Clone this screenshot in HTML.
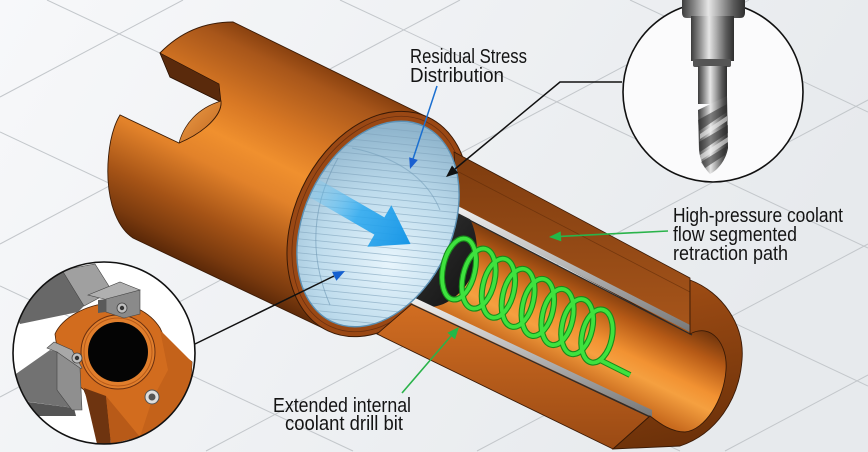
<!DOCTYPE html>
<html><head><meta charset="utf-8"><style>
html,body{margin:0;padding:0;background:#f2f4f6;width:868px;height:452px;overflow:hidden;}
svg{display:block;}
text{font-family:"Liberation Sans",sans-serif;font-size:20px;fill:#141414;}
</style></head><body>
<svg width="868" height="452" viewBox="0 0 868 452" xmlns="http://www.w3.org/2000/svg">
<defs>
<linearGradient id="bg" x1="0" y1="0" x2="1" y2="0.3"><stop offset="0" stop-color="#f7f8fa"/><stop offset="1" stop-color="#e7eaed"/></linearGradient>
<linearGradient id="bodyG" gradientUnits="userSpaceOnUse" x1="330" y1="70" x2="224" y2="283">
<stop offset="0" stop-color="#8a4210"/><stop offset="0.08" stop-color="#a8561a"/><stop offset="0.3" stop-color="#d87824"/><stop offset="0.45" stop-color="#f0902e"/><stop offset="0.58" stop-color="#e2822a"/><stop offset="0.78" stop-color="#a55316"/><stop offset="0.92" stop-color="#7a3a0e"/><stop offset="1" stop-color="#5a2808"/></linearGradient>
<radialGradient id="blueG" gradientUnits="userSpaceOnUse" cx="405" cy="255" r="135"><stop offset="0" stop-color="#e8f5fc"/><stop offset="0.55" stop-color="#bddbec"/><stop offset="1" stop-color="#8fb5cd"/></radialGradient>
<linearGradient id="arrowG" gradientUnits="userSpaceOnUse" x1="0" y1="0" x2="108" y2="0"><stop offset="0" stop-color="#6cc8f5" stop-opacity="0.25"/><stop offset="0.45" stop-color="#2aa8ef" stop-opacity="0.85"/><stop offset="1" stop-color="#1896e6"/></linearGradient>
<linearGradient id="boreG" gradientUnits="userSpaceOnUse" x1="560" y1="258" x2="515" y2="350"><stop offset="0" stop-color="#6e340c"/><stop offset="0.25" stop-color="#b65a16"/><stop offset="0.55" stop-color="#f29232"/><stop offset="0.7" stop-color="#f5a040"/><stop offset="1" stop-color="#c86a1e"/></linearGradient>
<linearGradient id="upG" x1="0" y1="0" x2="0" y2="1"><stop offset="0" stop-color="#7e3c0f"/><stop offset="1" stop-color="#a8561b"/></linearGradient>
<linearGradient id="lowG" x1="0" y1="0" x2="0" y2="1"><stop offset="0" stop-color="#d26e22"/><stop offset="1" stop-color="#9a4a14"/></linearGradient>
<linearGradient id="endG" gradientUnits="userSpaceOnUse" x1="690" y1="280" x2="720" y2="445"><stop offset="0" stop-color="#9e4c14"/><stop offset="1" stop-color="#6a3009"/></linearGradient>
<linearGradient id="railG" x1="0" y1="0" x2="0" y2="1"><stop offset="0" stop-color="#f2f2f2"/><stop offset="1" stop-color="#777"/></linearGradient>
<linearGradient id="crG" x1="0" y1="0" x2="1" y2="1"><stop offset="0" stop-color="#3a3a3a"/><stop offset="1" stop-color="#111"/></linearGradient>
<linearGradient id="metal" x1="0" y1="0" x2="1" y2="0"><stop offset="0" stop-color="#3c3c3c"/><stop offset="0.2" stop-color="#8a8a8a"/><stop offset="0.42" stop-color="#e6e6e6"/><stop offset="0.58" stop-color="#b0b0b0"/><stop offset="0.82" stop-color="#5a5a5a"/><stop offset="1" stop-color="#2e2e2e"/></linearGradient>
<linearGradient id="lensG" x1="0" y1="0" x2="1" y2="1"><stop offset="0" stop-color="#f0a04a"/><stop offset="1" stop-color="#c0661e"/></linearGradient>
<clipPath id="blueClip"><ellipse cx="378" cy="224" rx="74" ry="108" transform="rotate(25 378 224)"/></clipPath>
<clipPath id="leftClip"><circle cx="104" cy="353" r="91"/></clipPath>
</defs>

<rect x="0" y="0" width="868" height="452" fill="url(#bg)"/>

<g stroke="#c3c7cb" stroke-width="1">
<line x1="0" y1="286" x2="353" y2="451"/>
<line x1="0" y1="132" x2="680" y2="451"/>
<line x1="47" y1="0" x2="868" y2="386"/>
<line x1="340" y1="0" x2="868" y2="248"/>
<line x1="630" y1="0" x2="868" y2="112"/>
<line x1="0" y1="97" x2="183" y2="0"/>
<line x1="0" y1="244" x2="460" y2="0"/>
<line x1="0" y1="397" x2="749" y2="0"/>
<line x1="206" y1="451" x2="868" y2="100"/>
<line x1="477" y1="451" x2="868" y2="244"/>
<line x1="725" y1="451" x2="868" y2="375"/>
</g>

<path d="M429,118 L233,22 Q190,22 160,53 L170,77 L221,102 C222,115 205,132 179,143 L120,115 C108,135 104,175 112,205 C117,222 124,232 133,238 L327,330 L378,224 Z" fill="url(#bodyG)" stroke="#3b1b06" stroke-width="0.9"/>
<path d="M160,53 L219,84 L221,102 L170,77 Z" fill="#5a2a0c" stroke="#2a1204" stroke-width="0.7"/>
<path d="M221,101 C198,108 184,124 179,143 C205,132 222,115 221,101 Z" fill="url(#lensG)" stroke="#3b1b06" stroke-width="0.7"/>

<ellipse cx="378" cy="224" rx="84" ry="118" transform="rotate(25 378 224)" fill="#9a4814" stroke="#3a1a06" stroke-width="1"/>
<ellipse cx="378" cy="224" rx="79" ry="113" transform="rotate(25 378 224)" fill="none" stroke="#6a3010" stroke-width="0.8"/>

<path d="M455,212 L690,334 C712,322 728,345 726,370 C724,400 705,430 685,432 C670,432 658,422 650,416 L413,303 L430,280 Z" fill="url(#boreG)"/>
<path d="M455,200 C472,212 480,240 476,262 C472,285 452,305 432,307 L400,300 L440,230 Z" fill="url(#crG)"/>
<path d="M454,152 L690,278 L690,334 L458,210 Z" fill="url(#upG)" stroke="#3a1a06" stroke-width="0.8"/>
<line x1="455" y1="170" x2="690" y2="292" stroke="#5e2a08" stroke-width="0.8" opacity="0.6"/>
<path d="M452,203 L692,326 L692,333 L452,210 Z" fill="url(#railG)"/>
<line x1="452" y1="211" x2="692" y2="335" stroke="#2a2a2a" stroke-width="1.2"/>
<path d="M413,303 L650,416 L613,449 L377,334 Z" fill="url(#lowG)" stroke="#3a1a06" stroke-width="0.9"/>
<path d="M411,296 L652,410 L652,417 L411,303 Z" fill="url(#railG)"/>
<line x1="411" y1="304" x2="652" y2="418" stroke="#2a2a2a" stroke-width="1.2"/>
<path d="M690,280 C722,292 745,325 742,360 C739,400 716,434 680,446 L613,449 L650,416 C658,422 670,432 685,432 C705,430 724,400 726,370 C728,345 712,322 690,334 Z" fill="url(#endG)" stroke="#3a1a06" stroke-width="0.9"/>

<ellipse cx="378" cy="224" rx="74" ry="108" transform="rotate(25 378 224)" fill="url(#blueG)"/>
<g clip-path="url(#blueClip)">
<path d="M290,105l175,17.5m-175,-10.5l175,17.5m-175,-10.5l175,17.5m-175,-10.5l175,17.5m-175,-10.5l175,17.5m-175,-10.5l175,17.5m-175,-10.5l175,17.5m-175,-10.5l175,17.5m-175,-10.5l175,17.5m-175,-10.5l175,17.5m-175,-10.5l175,17.5m-175,-10.5l175,17.5m-175,-10.5l175,17.5m-175,-10.5l175,17.5m-175,-10.5l175,17.5m-175,-10.5l175,17.5m-175,-10.5l175,17.5m-175,-10.5l175,17.5m-175,-10.5l175,17.5m-175,-10.5l175,17.5m-175,-10.5l175,17.5m-175,-10.5l175,17.5m-175,-10.5l175,17.5m-175,-10.5l175,17.5m-175,-10.5l175,17.5m-175,-10.5l175,17.5m-175,-10.5l175,17.5m-175,-10.5l175,17.5m-175,-10.5l175,17.5m-175,-10.5l175,17.5m-175,-10.5l175,17.5m-175,-10.5l175,17.5m-175,-10.5l175,17.5m-175,-10.5l175,17.5" stroke="#7fa3bb" stroke-width="0.8" fill="none" opacity="0.65"/>
<path d="M338,158 Q298,230 330,305" stroke="#6e98b4" stroke-width="1" fill="none" opacity="0.6"/>
<path d="M352,148 Q420,162 440,210" stroke="#6e98b4" stroke-width="1" fill="none" opacity="0.5"/>
<g transform="translate(317,190) rotate(30)"><path d="M-15,-10 L72,-10 L72,-24 L108,0 L72,24 L72,10 L-15,10 Z" fill="url(#arrowG)"/></g>
</g>
<ellipse cx="378" cy="224" rx="74" ry="108" transform="rotate(25 378 224)" fill="none" stroke="#5b90b4" stroke-width="1.4"/>

<g fill="none">
<g stroke="#178c1a" stroke-width="6">
<ellipse cx="459" cy="269" rx="16" ry="31" transform="rotate(12 459 269)"/>
<ellipse cx="478.7" cy="278.6" rx="16" ry="30.5" transform="rotate(12 478.7 278.6)"/>
<ellipse cx="498.4" cy="288.2" rx="15.8" ry="30" transform="rotate(12 498.4 288.2)"/>
<ellipse cx="518.1" cy="297.8" rx="15.6" ry="29.5" transform="rotate(12 518.1 297.8)"/>
<ellipse cx="537.8" cy="307.4" rx="15.4" ry="29" transform="rotate(12 537.8 307.4)"/>
<ellipse cx="557.5" cy="317" rx="15.3" ry="28.5" transform="rotate(12 557.5 317)"/>
<ellipse cx="577.2" cy="326.6" rx="15.2" ry="28" transform="rotate(12 577.2 326.6)"/>
<ellipse cx="597" cy="336" rx="15" ry="27" transform="rotate(12 597 336)"/>
<path d="M600,360 L630,375"/>
</g>
<g stroke="#3ee23e" stroke-width="3.8">
<ellipse cx="459" cy="269" rx="16" ry="31" transform="rotate(12 459 269)"/>
<ellipse cx="478.7" cy="278.6" rx="16" ry="30.5" transform="rotate(12 478.7 278.6)"/>
<ellipse cx="498.4" cy="288.2" rx="15.8" ry="30" transform="rotate(12 498.4 288.2)"/>
<ellipse cx="518.1" cy="297.8" rx="15.6" ry="29.5" transform="rotate(12 518.1 297.8)"/>
<ellipse cx="537.8" cy="307.4" rx="15.4" ry="29" transform="rotate(12 537.8 307.4)"/>
<ellipse cx="557.5" cy="317" rx="15.3" ry="28.5" transform="rotate(12 557.5 317)"/>
<ellipse cx="577.2" cy="326.6" rx="15.2" ry="28" transform="rotate(12 577.2 326.6)"/>
<ellipse cx="597" cy="336" rx="15" ry="27" transform="rotate(12 597 336)"/>
<path d="M600,360 L630,375"/>
</g>
</g>

<line x1="437" y1="86" x2="413" y2="159" stroke="#1a6fd0" stroke-width="1.5"/>
<polygon points="410,169 417.8,160 409.2,157.2" fill="#1a5fd0"/>
<polyline points="622,82 560,82 455,169" fill="none" stroke="#111" stroke-width="1.5"/>
<polygon points="446,177 458.4,173.1 452,165.5" fill="#111"/>
<line x1="195" y1="344" x2="334" y2="276" stroke="#111" stroke-width="1.5"/>
<polygon points="345,271 336.4,280.8 332,271.8" fill="#1560d0"/>
<line x1="668" y1="231" x2="560" y2="236.4" stroke="#2ab34a" stroke-width="1.6"/>
<polygon points="549,237 561.3,241.4 560.7,231.4" fill="#22b848"/>
<line x1="402" y1="393" x2="451" y2="336" stroke="#2ab34a" stroke-width="1.6"/>
<polygon points="459,327 455,339.4 447.4,332.8" fill="#22b848"/>

<text x="410" y="63" textLength="117" lengthAdjust="spacingAndGlyphs">Residual Stress</text>
<text x="410" y="82" textLength="94" lengthAdjust="spacingAndGlyphs">Distribution</text>
<text x="673" y="222" textLength="170" lengthAdjust="spacingAndGlyphs">High-pressure coolant</text>
<text x="673" y="241" textLength="124" lengthAdjust="spacingAndGlyphs">flow segmented</text>
<text x="673" y="260" textLength="115" lengthAdjust="spacingAndGlyphs">retraction path</text>
<text x="273" y="412" textLength="138" lengthAdjust="spacingAndGlyphs">Extended internal</text>
<text x="285" y="430" textLength="118" lengthAdjust="spacingAndGlyphs">coolant drill bit</text>

<circle cx="713" cy="92" r="90" fill="#fbfbfc" stroke="#111" stroke-width="1.6"/>
<path d="M682,0 L745,0 L745,13 Q745,18 740,18 L687,18 Q682,18 682,13 Z" fill="url(#metal)"/>
<rect x="691" y="16" width="43" height="45" fill="url(#metal)"/>
<rect x="693" y="59" width="38" height="8" rx="2" fill="#555"/>
<rect x="698" y="66" width="29" height="38" fill="url(#metal)"/>
<path d="M698,110 L727,96 L728,148 C726,160 718,170 710,174 C704,168 700,160 699,150 Z" fill="url(#metal)"/>
<path d="M698,120 L727,104 L727,112 L699,131 Z" fill="#2a2a2a" opacity="0.55"/>
<path d="M699,142 L728,125 L728,133 L700,152 Z" fill="#2a2a2a" opacity="0.55"/>
<path d="M701,162 L727,146 L725,155 L705,168 Z" fill="#2a2a2a" opacity="0.55"/>
<path d="M700,134 L727,116 L727,121 L700,139 Z" fill="#f0f0f0" opacity="0.6"/>
<path d="M700,155 L728,137 L728,142 L701,160 Z" fill="#f0f0f0" opacity="0.6"/>

<circle cx="104" cy="353" r="91" fill="#ffffff"/>
<g clip-path="url(#leftClip)">
<line x1="13" y1="290" x2="195" y2="376" stroke="#c8ccd0" stroke-width="1"/>
<path d="M55,334 C62,318 85,305 110,303 C130,302 150,312 160,328 L167,343 L192,362 L190,398 L178,422 L140,437 L108,438 L96,420 L84,390 L60,370 Z" fill="#d26c1e" stroke="#4a2208" stroke-width="0.8"/>
<path d="M160,330 L192,362 L190,398 L178,422 L140,437 L152,400 L168,370 Z" fill="#c4621a"/>
<path d="M84,388 L106,396 L111,444 L97,444 Z" fill="#6e3410"/>
<path d="M106,396 L140,437 L111,444 Z" fill="#b85a18"/>
<circle cx="118" cy="352" r="37" fill="#e07e2c" stroke="#6a3010" stroke-width="1"/>
<circle cx="118" cy="352" r="34" fill="none" stroke="#b85a18" stroke-width="1"/>
<circle cx="118" cy="352" r="30" fill="#040404"/>
<circle cx="152" cy="397" r="7" fill="#dedede" stroke="#555" stroke-width="1"/>
<circle cx="152" cy="397" r="3.5" fill="#555"/>
<path d="M13,312 L62,270 L70,272 L84,306 L78,312 L20,324 Z" fill="#686868"/>
<path d="M62,270 L95,264 L112,291 L84,306 Z" fill="#a0a0a0" stroke="#444" stroke-width="0.6"/>
<path d="M88,295 L120,282 L140,290 L108,300 Z" fill="#b0b0b0" stroke="#444" stroke-width="0.6"/>
<path d="M106,299 L140,290 L140,314 L124,318 L106,312 Z" fill="#8a8a8a" stroke="#444" stroke-width="0.6"/>
<path d="M98,300 L106,299 L106,312 L98,313 Z" fill="#5a5a5a"/>
<circle cx="122" cy="308" r="5" fill="#c0c0c0" stroke="#444" stroke-width="0.8"/>
<circle cx="122" cy="308" r="2.2" fill="#333"/>
<path d="M13,376 L50,350 L58,352 L74,408 L30,402 L13,400 Z" fill="#727272"/>
<path d="M13,400 L74,408 L76,416 L13,416 Z" fill="#555"/>
<path d="M47,348 L54,342 L72,350 L82,368 L74,370 L57,352 Z" fill="#a8a8a8" stroke="#444" stroke-width="0.6"/>
<path d="M57,352 L80,368 L82,410 L72,410 L57,390 Z" fill="#8f8f8f" stroke="#444" stroke-width="0.6"/>
<circle cx="77" cy="358" r="5" fill="#c0c0c0" stroke="#444" stroke-width="0.8"/>
<circle cx="77" cy="358" r="2.2" fill="#333"/>
</g>
<circle cx="104" cy="353" r="91" fill="none" stroke="#111" stroke-width="1.6"/>
</svg>
</body></html>
